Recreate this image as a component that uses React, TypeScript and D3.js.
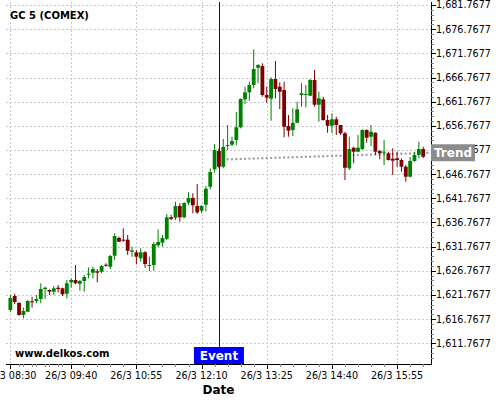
import React from "react";
import * as d3 from "d3";

const title = "GC 5 (COMEX)";
const watermark = "www.delkos.com";
const xTitle = "Date";
const eventLabel = "Event";
const trendLabel = "Trend";

const startTime = new Date(2015, 2, 26, 8, 30);
const stepMinutes = 5;

const opens = [1618.66,1621.56,1620.11,1617.63,1618.31,1620.46,1620.52,1620.94,1623.01,1622.80,1622.45,1623.28,1623.15,1622.03,1624.39,1624.87,1624.10,1624.66,1625.96,1626.38,1626.67,1626.58,1628.03,1627.62,1629.90,1633.56,1633.21,1633.21,1630.72,1630.60,1629.36,1630.60,1627.83,1627.97,1632.05,1632.58,1633.41,1637.84,1637.76,1640.18,1637.84,1640.86,1641.83,1640.18,1639.21,1640.45,1644.17,1647.77,1651.56,1648.31,1652.59,1652.86,1653.83,1656.46,1662.25,1663.70,1665.21,1668.79,1669.14,1663.14,1662.38,1666.45,1664.86,1664.18,1656.73,1655.90,1657.41,1663.14,1663.21,1663.00,1666.25,1661.14,1662.25,1657.97,1656.79,1658.12,1656.94,1655.22,1647.98,1652.24,1651.41,1651.97,1655.90,1654.52,1655.34,1651.56,1651.21,1651.08,1649.96,1650.05,1649.70,1648.31,1646.24,1649.49,1650.73,1651.97];
const highs = [1621.76,1622.03,1620.32,1619.14,1620.73,1621.41,1621.76,1624.19,1623.48,1622.94,1623.63,1623.83,1623.28,1624.87,1625.22,1627.97,1624.87,1625.90,1627.50,1627.62,1627.14,1627.97,1628.32,1630.04,1634.53,1633.83,1635.56,1634.18,1631.76,1631.08,1631.43,1630.87,1629.69,1632.73,1635.36,1634.18,1638.52,1638.32,1641.07,1640.74,1640.94,1643.01,1642.81,1644.73,1640.39,1644.32,1647.98,1653.01,1652.12,1654.04,1656.94,1654.52,1659.63,1662.46,1664.86,1665.90,1672.60,1669.56,1669.70,1664.86,1666.81,1670.18,1665.77,1665.90,1659.01,1660.39,1661.76,1665.57,1665.21,1666.45,1668.32,1663.83,1662.79,1659.01,1659.36,1658.65,1656.94,1655.55,1654.52,1652.45,1654.87,1656.05,1656.05,1656.94,1655.40,1651.77,1653.83,1651.41,1652.12,1651.41,1650.05,1648.66,1650.38,1651.41,1653.48,1652.45];
const lows = [1618.25,1619.90,1617.50,1616.94,1618.25,1619.14,1620.05,1620.05,1620.94,1621.76,1621.76,1622.32,1621.56,1621.08,1623.28,1624.00,1622.65,1622.45,1625.22,1625.22,1624.39,1626.25,1627.62,1627.14,1629.01,1632.70,1632.79,1630.04,1629.69,1628.12,1628.66,1627.41,1626.73,1626.79,1631.63,1631.76,1633.14,1637.28,1637.28,1636.93,1637.63,1640.39,1638.67,1638.52,1638.67,1639.08,1643.63,1647.07,1647.98,1647.98,1651.77,1652.59,1652.74,1656.25,1661.28,1661.96,1664.53,1665.57,1662.79,1661.55,1657.83,1662.46,1660.25,1654.39,1654.52,1654.66,1657.30,1660.72,1660.60,1662.90,1660.72,1657.62,1657.83,1655.34,1655.22,1654.87,1654.87,1645.56,1647.63,1649.01,1651.30,1651.77,1653.28,1652.59,1650.73,1649.84,1648.66,1649.60,1646.59,1648.31,1647.28,1645.21,1646.10,1649.35,1650.05,1650.05];
const closes = [1621.14,1620.32,1617.63,1618.45,1620.52,1620.32,1620.94,1623.01,1623.28,1622.45,1623.15,1623.01,1621.91,1624.19,1624.87,1624.19,1624.66,1625.49,1626.17,1627.14,1626.38,1627.77,1627.83,1629.83,1633.97,1632.79,1633.08,1630.93,1631.01,1629.69,1630.60,1628.18,1627.97,1632.32,1632.73,1633.56,1637.84,1637.49,1640.18,1637.84,1640.80,1641.83,1640.32,1638.88,1640.18,1643.76,1647.21,1651.77,1648.31,1652.39,1652.80,1653.63,1656.46,1662.32,1663.70,1665.21,1668.52,1669.35,1663.14,1662.59,1666.45,1664.39,1663.83,1656.59,1655.76,1657.41,1660.19,1663.50,1663.35,1666.25,1661.14,1662.46,1657.97,1656.79,1658.12,1656.94,1655.22,1648.10,1651.97,1651.41,1652.24,1655.90,1654.31,1655.55,1651.41,1651.08,1651.41,1649.70,1649.55,1649.70,1648.31,1646.24,1649.49,1650.73,1651.97,1650.38];

const yMajorTicks = [1611.7677,1616.7677,1621.7677,1626.7677,1631.7677,1636.7677,1641.7677,1646.7677,1651.7677,1656.7677,1661.7677,1666.7677,1671.7677,1676.7677,1681.7677];
const xTickTimes = ["08:30","09:40","10:55","12:10","13:25","14:40","15:55"];
const eventIndex = 48;
const trendStartIndex = 50;
const trendEndIndex = 97;
const trendStartValue = 1649.84;
const trendEndValue = 1651.2;

const W = 500, H = 400;
const left = 6, right = 431, top = 2, bottom = 364;

function timeAt(i: number) {
  return new Date(startTime.getTime() + i * stepMinutes * 60000);
}
function parseTick(s: string) {
  const [h, m] = s.split(":").map(Number);
  return new Date(2015, 2, 26, h, m);
}

export default function App() {
  const x = d3.scaleTime().domain([timeAt(-1), timeAt(96.8)]).range([left, right]);
  const y = d3.scaleLinear().domain([1607.49, 1682.39]).range([bottom, top]);
  const fmtY = d3.format(",.4f");
  const fmtX = d3.timeFormat("%-d/%-m %H:%M");
  const green = "#008000", red = "#800000";
  const bodyW = 3.8;
  const yMinor = d3.range(1608.7677, 1682.5, 1);
  const xMajor = xTickTimes.map(parseTick);
  const xMinor: Date[] = [];
  for (let k = -1; k < xMajor.length; k++) {
    const base = k < 0 ? new Date(xMajor[1].getTime() - 75 * 60000) : xMajor[k];
    for (let j = 1; j < 5; j++) xMinor.push(new Date(base.getTime() + j * 15 * 60000));
  }
  const ex = x(timeAt(eventIndex));
  const tx1 = x(timeAt(trendStartIndex)), tx2 = x(timeAt(trendEndIndex));
  const ty1 = y(trendStartValue), ty2 = y(trendEndValue);
  const font = "DejaVu Sans, sans-serif";

  return (
    <svg width={W} height={H} style={{ position: "absolute", left: 0, top: 0, background: "#fff" }}>
      <defs>
        <clipPath id="plotclip">
          <rect x={left} y={top} width={right - left} height={bottom - top} />
        </clipPath>
      </defs>
      <rect x={0} y={0} width={W} height={H} fill="#fff" />
      {/* grid */}
      <g stroke="#c8c8c8" strokeWidth={1} strokeDasharray="2,2" shapeRendering="crispEdges">
        {yMajorTicks.map((v) => (
          <line key={"gy" + v} x1={left} x2={right} y1={Math.round(y(v)) + 0.5} y2={Math.round(y(v)) + 0.5} />
        ))}
        {xMajor.map((d, i) => (
          <line key={"gx" + i} x1={Math.round(x(d)) + 0.5} x2={Math.round(x(d)) + 0.5} y1={top} y2={bottom} />
        ))}
      </g>
      {/* trend */}
      <g clipPath="url(#plotclip)">
        <line x1={tx1} y1={ty1} x2={tx2} y2={ty2} stroke="#a0a0a0" strokeWidth={2.4}
          strokeLinecap="round" strokeDasharray={`0,${(x(timeAt(1)) - x(timeAt(0))).toFixed(3)}`} />
      </g>
      {/* candles */}
      <g>
        {opens.map((o, i) => {
          const c = closes[i];
          const col = c >= o ? green : red;
          const cx = x(timeAt(i));
          const yt = y(Math.max(o, c)), yb = y(Math.min(o, c));
          return (
            <g key={i}>
              <line x1={cx} x2={cx} y1={y(highs[i])} y2={y(lows[i])} stroke={col} strokeWidth={1} />
              <rect x={cx - bodyW / 2} y={yt} width={bodyW} height={Math.max(1, yb - yt)} fill={col} />
            </g>
          );
        })}
      </g>
      {/* event line */}
      <line x1={Math.round(ex) + 0.5} x2={Math.round(ex) + 0.5} y1={top} y2={bottom} stroke="#0000ff" strokeWidth={1} />
      {/* title, watermark */}
      <text x={10} y={19} fontFamily={font} fontWeight="bold" fontSize={10} fill="#000">{title}</text>
      <text x={15} y={357} fontFamily={font} fontWeight="bold" fontSize={10} fill="#000">{watermark}</text>
      {/* axes */}
      <g shapeRendering="crispEdges" stroke="#000">
        <line x1={left} x2={right + 0.5} y1={bottom + 0.5} y2={bottom + 0.5} strokeWidth={1} />
        <line x1={right + 0.5} x2={right + 0.5} y1={top} y2={bottom + 1} strokeWidth={1} />
        {yMinor.map((v) => (
          <line key={"ym" + v} x1={right} x2={right + 3} y1={Math.round(y(v)) + 0.5} y2={Math.round(y(v)) + 0.5} stroke="#888" />
        ))}
        {yMajorTicks.map((v) => (
          <line key={"yt" + v} x1={right} x2={right + 5} y1={Math.round(y(v)) + 0.5} y2={Math.round(y(v)) + 0.5} />
        ))}
        {xMinor.filter((d) => x(d) >= left && x(d) <= right).map((d, i) => (
          <line key={"xm" + i} x1={Math.round(x(d)) + 0.5} x2={Math.round(x(d)) + 0.5} y1={bottom} y2={bottom + 3} stroke="#888" />
        ))}
        {xMajor.map((d, i) => (
          <line key={"xt" + i} x1={Math.round(x(d)) + 0.5} x2={Math.round(x(d)) + 0.5} y1={bottom} y2={bottom + 5} />
        ))}
      </g>
      {yMajorTicks.map((v) => (
        <text key={"yl" + v} x={right + 5} y={y(v)} dy="0.35em" fontFamily={font} fontSize={9.6} fill="#000">{fmtY(v)}</text>
      ))}
      {xMajor.map((d, i) => (
        <text key={"xl" + i} x={x(d)} y={379} textAnchor="middle" fontFamily={font} fontSize={9.6} fill="#000">{fmtX(d)}</text>
      ))}
      <text x={(left + right) / 2} y={394} textAnchor="middle" fontFamily={font} fontWeight="bold" fontSize={12} fill="#000">{xTitle}</text>
      {/* event label */}
      <rect x={ex - 25} y={347} width={50} height={17} fill="#0000ff" />
      <text x={ex} y={360} textAnchor="middle" fontFamily={font} fontWeight="bold" fontSize={12} fill="#fff">{eventLabel}</text>
      {/* trend label */}
      <rect x={right} y={ty2 - 8.5} width={44} height={17} fill="#8c8c8c" />
      <text x={right + 3} y={ty2 + 4.5} fontFamily={font} fontWeight="bold" fontSize={12} fill="#fff">{trendLabel}</text>
    </svg>
  );
}
